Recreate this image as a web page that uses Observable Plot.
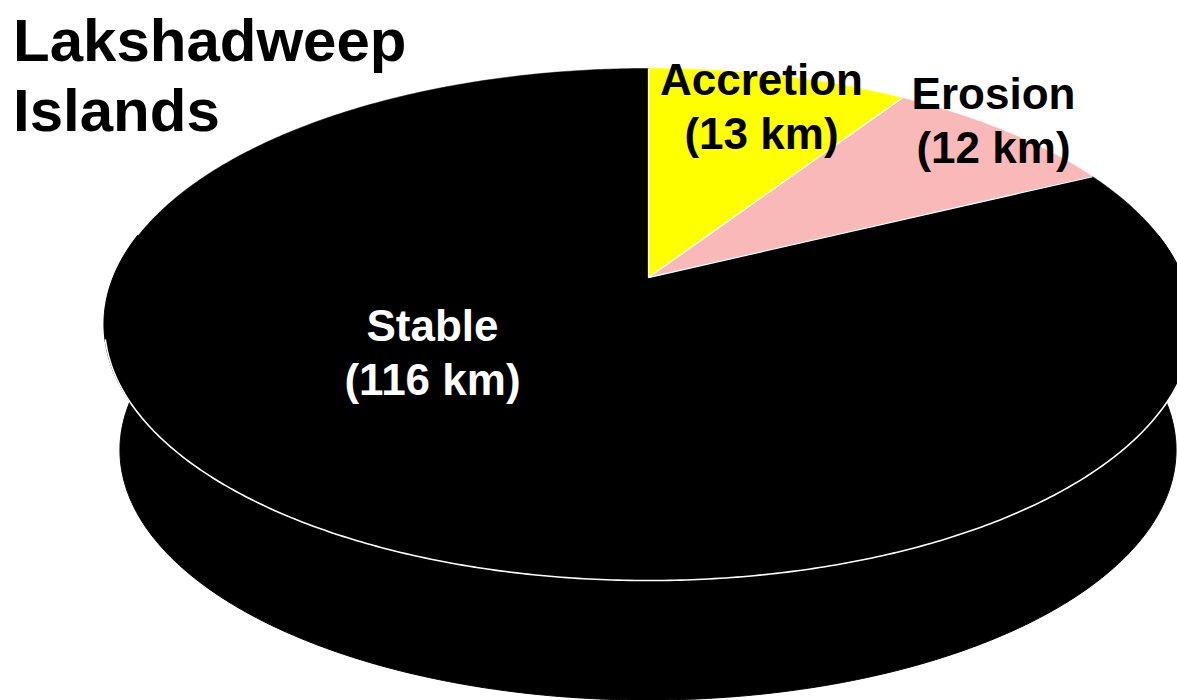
<!DOCTYPE html>
<html>
<head>
<meta charset="utf-8">
<script src="https://cdn.jsdelivr.net/npm/d3@7"></script>
<script src="https://cdn.jsdelivr.net/npm/@observablehq/plot@0.6"></script>
<style>
  html, body { margin: 0; padding: 0; background: #fff; }
  #wrap { position: relative; width: 1177px; height: 700px; overflow: hidden; }
  #title {
    position: absolute; left: 13px; top: 6px; margin: 0; z-index: 2;
    font-family: "Liberation Sans", Arial, sans-serif; font-weight: bold;
    font-size: 60px; line-height: 70px; color: #000;
  }
  #chart svg { display: block; }
</style>
</head>
<body>
<div id="wrap">
  <div id="title"></div>
  <div id="chart"></div>
</div>
<script>
// ---------- data ----------
const categories = ["Accretion", "Erosion", "Stable"];
const lengthKm = [13, 12, 116];
const unit = "km";
const titleLines = ["Lakshadweep", "Islands"];

// ---------- styles ----------
const sliceColors = { Accretion: "#FFFF00", Erosion: "#F9B9B9", Stable: "#000000" };
const labelColors = { Accretion: "#000000", Erosion: "#000000", Stable: "#FFFFFF" };
const edgeColor = "#FFFFFF";
const fontFamily = "'Liberation Sans', Arial, Helvetica, sans-serif";

// ---------- layout ----------
const W = 1177, H = 700;
const pie = { cx: 648, cy: 277, A: 534.8, B: 247.4, k: 0.1836, startDeg: 90,
              base: { sx: 0.9706, sy: 0.9766, dy: -0.5137 } };
const labelAnchors = { Accretion: [761, 104], Erosion: [993, 118], Stable: [432, 350] };

document.getElementById("title").innerHTML = titleLines.join("<br>");

const rad = d => d * Math.PI / 180;
function topPt(deg, r = 1) {
  const u = r * Math.cos(rad(deg)), v = r * Math.sin(rad(deg));
  const w = 1 + pie.k * v;
  return { x: u / w, y: v / w };
}
function basePt(deg) {
  const p = topPt(deg);
  return { x: pie.base.sx * p.x, y: pie.base.dy + pie.base.sy * p.y };
}
function arcDegs(a0, a1, step = 0.5) {
  const out = [];
  const n = Math.max(1, Math.ceil(Math.abs(a0 - a1) / step));
  for (let i = 0; i <= n; i++) out.push(a0 + (a1 - a0) * i / n);
  return out;
}

// silhouette tangent angles (where side wall meets the top rim visually)
function crossAt(deg) {
  const e = 0.01;
  const p0 = topPt(deg - e), p1 = topPt(deg + e);
  const tx = (p1.x - p0.x) * pie.A, ty = -(p1.y - p0.y) * pie.B;
  const t = topPt(deg), b = basePt(deg);
  const dx = (b.x - t.x) * pie.A, dy = -(b.y - t.y) * pie.B;
  return tx * dy - ty * dx;
}
function findRoot(lo, hi) {
  let prev = crossAt(lo);
  for (let d = lo + 0.1; d <= hi; d += 0.1) {
    const c = crossAt(d);
    if (Math.sign(c) !== Math.sign(prev)) return d;
    prev = c;
  }
  return lo;
}
const rimLeft = findRoot(150, 270);
const rimRight = findRoot(270, 400);

const total = d3.sum(lengthKm);
let ang = pie.startDeg;
const slices = categories.map((c, i) => {
  const sweep = lengthKm[i] / total * 360;
  const s = { name: c, value: lengthKm[i], a0: ang, a1: ang - sweep };
  ang -= sweep;
  return s;
});

const marks = [];

// side wall (visible front half)
for (const s of slices) {
  for (const shift of [-360, 0, 360]) {
    const lo = Math.max(s.a1 + shift, -190), hi = Math.min(s.a0 + shift, 10);
    if (hi <= lo) continue;
    const pts = arcDegs(lo, hi).map(d => {
      const t = topPt(d), b = basePt(d);
      return { xt: t.x, yt: t.y, xb: b.x, yb: b.y };
    });
    marks.push(Plot.area(pts, {
      x1: "xt", y1: "yt", x2: "xb", y2: "yb",
      fill: sliceColors[s.name], stroke: sliceColors[s.name], strokeWidth: 1
    }));
  }
}

// top face slices
for (const s of slices) {
  const pts = [{ x: 0, y: 0 }, ...arcDegs(s.a0, s.a1).map(d => topPt(d)), { x: 0, y: 0 }];
  marks.push(Plot.line(pts, {
    x: "x", y: "y", fill: sliceColors[s.name], stroke: sliceColors[s.name],
    strokeWidth: 0.5, strokeLinejoin: "round"
  }));
}

// white edges: slice separators on the top face
const separators = slices.map(s => ({ x1: 0, y1: 0, x2: topPt(s.a0).x, y2: topPt(s.a0).y }));
marks.push(Plot.link(separators, {
  x1: "x1", y1: "y1", x2: "x2", y2: "y2", stroke: edgeColor, strokeWidth: 1.3
}));

// white edge: front rim between top face and side wall
marks.push(Plot.line(arcDegs(rimLeft, rimRight, 0.5).map(d => topPt(d)), {
  x: "x", y: "y", stroke: edgeColor, strokeWidth: 1.6
}));

// labels
const labels = slices.map(s => ({
  name: s.name,
  text: `${s.name}\n(${s.value} ${unit})`,
  x: (labelAnchors[s.name][0] - pie.cx) / pie.A,
  y: (pie.cy - labelAnchors[s.name][1]) / pie.B
}));
marks.push(Plot.text(labels, {
  x: "x", y: "y", text: "text",
  fill: d => labelColors[d.name],
  fontSize: 44, fontWeight: "bold", fontFamily,
  lineHeight: 1.22, textAnchor: "middle", lineAnchor: "middle"
}));

const chart = Plot.plot({
  width: W, height: H, margin: 0,
  style: { background: "#fff", overflow: "hidden" },
  x: { type: "linear", domain: [(0 - pie.cx) / pie.A, (W - pie.cx) / pie.A], range: [0, W], axis: null },
  y: { type: "linear", domain: [(pie.cy - H) / pie.B, pie.cy / pie.B], range: [H, 0], axis: null },
  marks
});
document.getElementById("chart").appendChild(chart);
</script>
</body>
</html>
